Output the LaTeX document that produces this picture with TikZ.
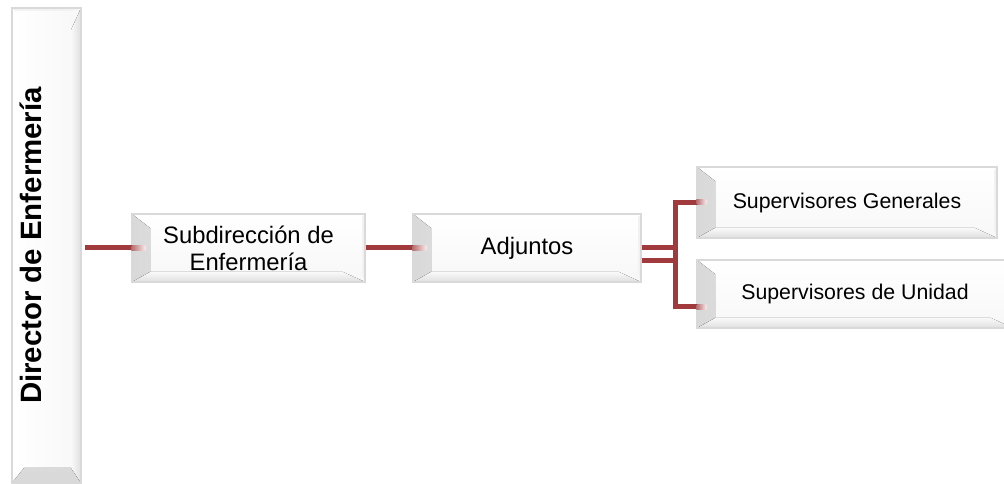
\documentclass[tikz,border=0pt]{standalone}
\usepackage{fontspec}
\usepackage{graphicx}
\setmainfont{Liberation Sans}
\definecolor{linkred}{RGB}{160,58,60}

\begin{document}
\begin{tikzpicture}[x=1pt,y=1pt,
	box/.style={draw=gray!30, line width=1.2pt, top color=white, bottom color=gray!6, inner sep=0pt, align=center,
		path picture={
			\fill[left color=gray!30, right color=gray!4] (path picture bounding box.north west) -- ++(18,-14) -- ([shift={(18,10)}]path picture bounding box.south west) -- (path picture bounding box.south west) -- cycle;
			\fill[top color=gray!5, bottom color=gray!25] (path picture bounding box.south west) -- ++(18,10) -- ([shift={(-22,10)}]path picture bounding box.south east) -- (path picture bounding box.south east) -- cycle;
			\fill[gray!10] (path picture bounding box.north east) -- ++(-3,-3) -- ([shift={(-3,10)}]path picture bounding box.south east) -- (path picture bounding box.south east) -- cycle;
		}},
	vbox/.style={draw=gray!30, line width=1.2pt, left color=white, right color=gray!6, inner sep=0pt,
		path picture={
			\fill[bottom color=gray!30, top color=gray!4] (path picture bounding box.south west) -- ++(12,15) -- ([shift={(-10,15)}]path picture bounding box.south east) -- (path picture bounding box.south east) -- cycle;
			\fill[left color=gray!5, right color=gray!25] (path picture bounding box.south east) -- ++(-10,15) -- ([shift={(-10,-22)}]path picture bounding box.north east) -- (path picture bounding box.north east) -- cycle;
			\fill[gray!10] (path picture bounding box.north west) -- ++(3,-3) -- ([shift={(-10,-3)}]path picture bounding box.north east) -- (path picture bounding box.north east) -- cycle;
		}},
	link/.style={draw=linkred, line width=5pt},
	linkfade/.style={left color=linkred!75, right color=linkred!10}]
	\useasboundingbox (0,0) rectangle (1004,484);
	%%%
	\node[vbox, minimum width=69, minimum height=475] (director) at (46.5,238.5)
		{\rotatebox{90}{\raisebox{5pt}[0pt][0pt]{\fontsize{29.4}{34}\selectfont\bfseries Director de Enfermería}}};
	\node[box, minimum width=233, minimum height=68, font=\fontsize{23.8}{27}\selectfont] (subdir) at (248.5,236) {Subdirección de\\Enfermería};
	\node[box, minimum width=228, minimum height=68, font=\fontsize{23.8}{27}\selectfont] (adjuntos) at (527,236) {Adjuntos};
	\node[box, minimum width=300, minimum height=71, font=\fontsize{21.3}{25}\selectfont] (supgen) at (847,281.5) {Supervisores Generales};
	\node[box, minimum width=316, minimum height=68, font=\fontsize{21.3}{25}\selectfont] (supuni) at (855,190) {Supervisores de Unidad};
	%%%
	\coordinate (fork) at (675,236);
	\coordinate (adjlow) at ([yshift=-13pt]adjuntos.east);
	\coordinate (uniin) at ([yshift=-13pt]supuni.west);
	\draw[link] ([xshift=3pt]director.east |- subdir.west) -- (subdir.west);
	\fill[linkfade] ([yshift=-2.5pt]subdir.west) rectangle ++(14,5);
	\draw[link] (subdir.east) -- (adjuntos.west);
	\fill[linkfade] ([yshift=-2.5pt]adjuntos.west) rectangle ++(14,5);
	\draw[link] (adjlow) -| (fork |- supgen.west) -- (supgen.west);
	\fill[linkfade] ([yshift=-2.5pt]supgen.west) rectangle ++(10,5);
	\draw[link] (adjuntos.east) -| (fork |- uniin) -- (uniin);
	\fill[linkfade] ([yshift=-2.5pt]uniin) rectangle ++(10,5);
\end{tikzpicture}
\end{document}
